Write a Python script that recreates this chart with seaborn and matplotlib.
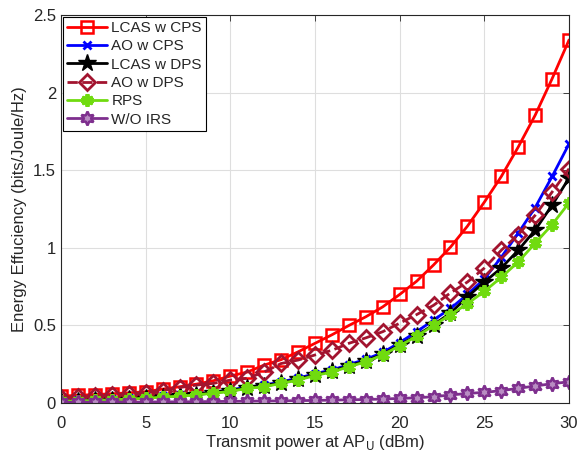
import numpy as np
import matplotlib
matplotlib.use("Agg")
import matplotlib.pyplot as plt
import seaborn as sns


power_dbm = list(range(0, 31))

lcas_cps = [0.045, 0.05, 0.055, 0.06, 0.066, 0.073, 0.09, 0.105, 0.122, 0.144, 0.174,
			0.20, 0.245, 0.28, 0.33, 0.385, 0.44, 0.50, 0.556, 0.62, 0.70,
			0.785, 0.89, 1.005, 1.14, 1.295, 1.46, 1.65, 1.855, 2.09, 2.34]
ao_cps = [0.015, 0.018, 0.021, 0.025, 0.03, 0.036, 0.043, 0.05, 0.059, 0.071, 0.084,
		  0.103, 0.115, 0.137, 0.16, 0.19, 0.213, 0.248, 0.282, 0.326, 0.39,
		  0.46, 0.535, 0.61, 0.70, 0.80, 0.94, 1.095, 1.26, 1.46, 1.67]
lcas_dps = [0.013, 0.016, 0.019, 0.023, 0.028, 0.033, 0.04, 0.047, 0.055, 0.066, 0.078,
			0.097, 0.108, 0.13, 0.152, 0.182, 0.205, 0.24, 0.272, 0.315, 0.375,
			0.435, 0.505, 0.58, 0.685, 0.78, 0.87, 0.985, 1.115, 1.275, 1.45]
ao_dps = [0.035, 0.04, 0.045, 0.05, 0.058, 0.068, 0.08, 0.10, 0.116, 0.127, 0.148,
		  0.16, 0.20, 0.255, 0.277, 0.31, 0.34, 0.385, 0.42, 0.46, 0.515,
		  0.57, 0.63, 0.71, 0.78, 0.87, 0.985, 1.085, 1.21, 1.36, 1.51]
rps = [0.011, 0.014, 0.017, 0.021, 0.026, 0.031, 0.038, 0.045, 0.052, 0.064, 0.075,
	   0.095, 0.105, 0.127, 0.148, 0.178, 0.20, 0.234, 0.266, 0.31, 0.37,
	   0.43, 0.50, 0.57, 0.64, 0.72, 0.81, 0.91, 1.03, 1.15, 1.29]
wo_irs = [0.004, 0.005, 0.005, 0.006, 0.006, 0.007, 0.008, 0.008, 0.009, 0.010, 0.011,
		  0.012, 0.013, 0.014, 0.016, 0.017, 0.019, 0.021, 0.023, 0.026, 0.03,
		  0.034, 0.041, 0.052, 0.062, 0.069, 0.08, 0.095, 0.11, 0.125, 0.137]

x_ticks = [0, 5, 10, 15, 20, 25, 30]
y_ticks = [0, 0.5, 1, 1.5, 2, 2.5]

sns.set_style("whitegrid")
plt.rcParams["font.family"] = ["Liberation Sans", "DejaVu Sans"]

axis_grey = (0.15, 0.15, 0.15)

fig = plt.figure(figsize=(5.78, 4.57), dpi=100)
ax = fig.add_axes([0.1055, 0.118, 0.879, 0.849])

series = [
	("LCAS w CPS", lcas_cps, dict(color="red", marker="s", ms=8, mfc="none", mew=1.8, ls="-")),
	("AO w CPS", ao_cps, dict(color="blue", marker="x", ms=6, mew=2.0, ls="-")),
	("LCAS w DPS", lcas_dps, dict(color="black", marker="*", ms=13, mfc="black", mew=1.0, ls="-")),
	("AO w DPS", ao_dps, dict(color=(0.635, 0.078, 0.184), marker="D", ms=8, mfc="none", mew=2.0, ls="--")),
	("RPS", rps, dict(color=(0.44, 0.86, 0.06), marker=(6, 2, 0), ms=9, mew=2.8, ls="-")),
	("W/O IRS", wo_irs, dict(color=(0.494, 0.184, 0.556), marker=(6, 1, 0), ms=10, mfc=(0.72, 0.55, 0.76), mew=1.8, ls="-")),
]

for name, vals, style in series:
	ax.plot(power_dbm, vals, label=name, lw=2, **style)

ax.set_xlim(0, 30)
ax.set_ylim(0, 2.5)
ax.set_xticks(x_ticks)
ax.set_yticks(y_ticks)
ax.set_yticklabels(["0", "0.5", "1", "1.5", "2", "2.5"])

ax.grid(True, color=(0.87, 0.87, 0.87), lw=0.8)
for sp in ax.spines.values():
	sp.set_color(axis_grey)
	sp.set_linewidth(0.8)
ax.tick_params(direction="in", length=4, width=0.6, colors=axis_grey,
			   labelsize=12, top=True, right=True, labelcolor=axis_grey)
ax.tick_params(axis="x", pad=9)

ax.set_xlabel("Transmit power at AP$_{\\rm U}$ (dBm)", fontsize=12, color=axis_grey, labelpad=2)
ax.set_ylabel("Energy Effuciency (bits/Joule/Hz)", fontsize=12, color=axis_grey, labelpad=4)

leg = ax.legend(loc="upper left", fontsize=11, frameon=True, fancybox=False,
				borderaxespad=0.1, handlelength=2.6, labelspacing=0.28,
				borderpad=0.3, handletextpad=0.3)
leg.get_frame().set_edgecolor("black")
leg.get_frame().set_linewidth(0.8)
leg.get_frame().set_alpha(1)

fig.savefig("out.png", dpi=100)
